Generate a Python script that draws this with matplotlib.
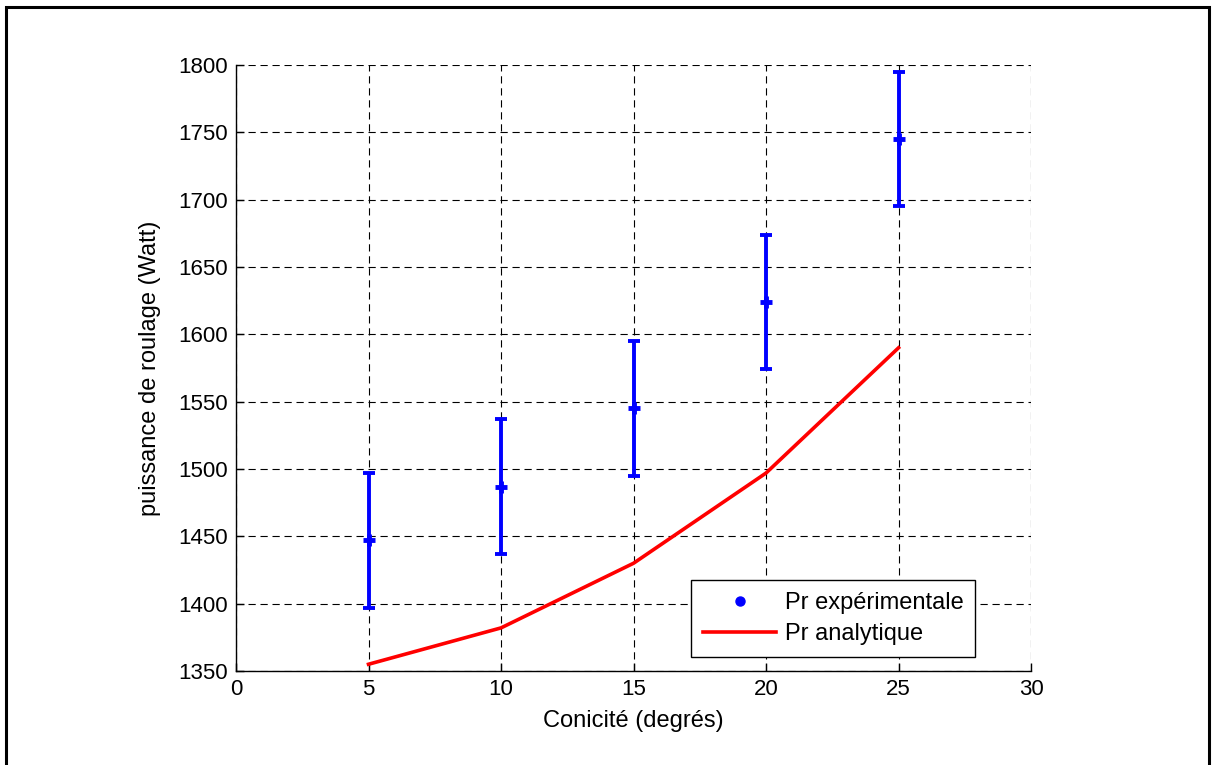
import numpy as np
import matplotlib.pyplot as plt
from matplotlib.lines import Line2D
from matplotlib.patches import Rectangle

# data
conicite = [5, 10, 15, 20, 25]
pr_exp = [1447, 1487, 1545, 1624, 1745]
pr_err = [50, 50, 50, 50, 50]
pr_ana = [1355, 1382, 1430, 1497, 1590]

plt.rcParams['font.family'] = ['Liberation Sans', 'DejaVu Sans']
plt.rcParams['font.size'] = 16

fig = plt.figure(figsize=(12.14, 7.65), dpi=100)
ax = fig.add_axes([0.1944, 0.1229, 0.6549, 0.7921])

# outer frame around the figure
fig.patches.append(Rectangle((0.005, -0.05), 0.991, 1.041, transform=fig.transFigure,
                             fill=False, edgecolor='black', linewidth=2.2))

ax.errorbar(conicite, pr_exp, yerr=pr_err, fmt='none', ecolor='blue',
            elinewidth=2.8, capsize=4, capthick=2.8, zorder=3)
ax.plot(conicite, pr_exp, linestyle='none', marker='+', color='blue',
        markersize=9, markeredgewidth=3.5, zorder=4)
ax.plot(conicite, pr_ana, color='red', linewidth=2.6, zorder=3)

ax.set_xlim(0, 30)
ax.set_ylim(1350, 1800)
ax.set_xticks(np.arange(0, 31, 5))
ax.set_yticks(np.arange(1350, 1801, 50))

ax.grid(True, color='black', linestyle=(0, (6.5, 4.3)), linewidth=0.8)
for s in ['top', 'right']:
    ax.spines[s].set_visible(False)
for s in ['left', 'bottom']:
    ax.spines[s].set_linewidth(1.0)
ax.tick_params(direction='in', length=6, width=1.0, pad=6)

ax.set_xlabel('Conicité (degrés)', fontsize=17, labelpad=7)
ax.set_ylabel('puissance de roulage (Watt)', fontsize=17, labelpad=12)

handles = [Line2D([], [], linestyle='none', marker='.', color='blue', markersize=13),
           Line2D([], [], color='red', linewidth=2.6)]
leg = ax.legend(handles, ['Pr expérimentale', 'Pr analytique'],
                loc='lower right', bbox_to_anchor=(0.9296, 0.023), fontsize=17,
                fancybox=False, framealpha=1, edgecolor='black', handlelength=3.1,
                handletextpad=0.34, borderpad=0.5, labelspacing=0.4,
                borderaxespad=0)
leg.get_frame().set_linewidth(1.0)

fig.savefig('out.png', dpi=100)
